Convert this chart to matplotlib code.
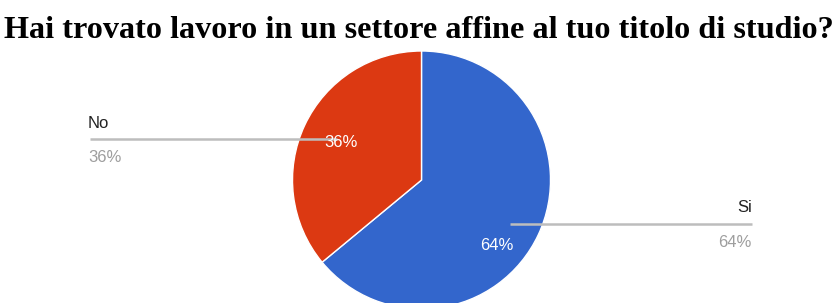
import numpy as np
import matplotlib
matplotlib.use('agg')
import matplotlib.pyplot as plt

# data
labels = ['Si', 'No']
values = [64, 36]
colors = ['#3366cc', '#dc3912']
title = 'Hai trovato lavoro in un settore affine al tuo titolo di studio?'

W, H = 837, 303
fig = plt.figure(figsize=(W / 100, H / 100), dpi=100)
ax = fig.add_axes([0, 0, 1, 1])

# pie in pixel coords (y up)
cx, cy, r = 421.5, H - 180, 129
wedges, _ = ax.pie(values, colors=colors, startangle=90, counterclock=False,
                   center=(cx, cy), radius=r,
                   wedgeprops=dict(edgecolor='white', linewidth=1))
ax.set_xlim(0, W)
ax.set_ylim(0, H)
ax.set_aspect('equal')
ax.axis('off')

pct = ['%d%%' % round(v * 100 / sum(values)) for v in values]
sans = 'Liberation Sans'

# leader lines + outside labels (Si right, No left)
# Si
ax.plot([510, 752], [H - 224, H - 224], color='#bdbdbd', lw=1.8, solid_capstyle='butt', zorder=3)
ax.text(752, H - 212, labels[0], ha='right', va='baseline', fontsize=12, color='#222222', family=sans)
ax.text(752, H - 235, pct[0], ha='right', va='top', fontsize=12, color='#9e9e9e', family=sans)
ax.text(497, H - 245, pct[0], ha='center', va='center', fontsize=12, color='white', family=sans, zorder=4)
# No
ax.plot([90, 337], [H - 139, H - 139], color='#bdbdbd', lw=1.8, solid_capstyle='butt', zorder=3)
ax.text(88, H - 128, labels[1], ha='left', va='baseline', fontsize=12, color='#222222', family=sans)
ax.text(88, H - 150, pct[1], ha='left', va='top', fontsize=12, color='#9e9e9e', family=sans)
ax.text(341, H - 143, pct[1], ha='center', va='center', fontsize=12, color='white', family=sans, zorder=4)

fig.text(0.5, 1 - 38 / H, title, ha='center', va='baseline', fontsize=23.2,
         fontweight='bold', family='Liberation Serif')

fig.savefig('out.png', dpi=100)
